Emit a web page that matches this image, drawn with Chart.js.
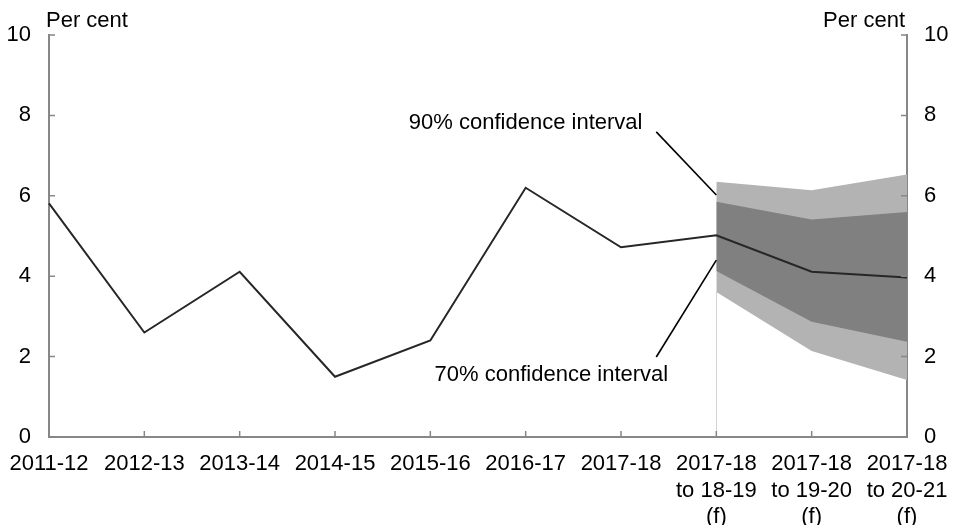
<!DOCTYPE html>
<html>
<head>
<meta charset="utf-8">
<script src="https://cdn.jsdelivr.net/npm/chart.js@4/dist/chart.umd.min.js"></script>
<style>
  html, body { margin: 0; padding: 0; background: #fff; }
  #wrap { width: 953px; height: 525px; position: relative; }
</style>
</head>
<body>
<div id="wrap"><canvas id="c" width="953" height="525"></canvas></div>
<script>
// ---- Data ----
const categories = [
  '2011-12', '2012-13', '2013-14', '2014-15', '2015-16', '2016-17', '2017-18',
  ['2017-18', 'to 18-19', '(f)'],
  ['2017-18', 'to 19-20', '(f)'],
  ['2017-18', 'to 20-21', '(f)']
];
const growth  = [5.81, 2.60, 4.11, 1.50, 2.40, 6.20, 4.72, 5.02, 4.11, 3.97];
const upper90 = [null, null, null, null, null, null, null, 6.35, 6.14, 6.53];
const lower90 = [null, null, null, null, null, null, null, 3.61, 2.14, 1.42];
const upper70 = [null, null, null, null, null, null, null, 5.85, 5.41, 5.60];
const lower70 = [null, null, null, null, null, null, null, 4.13, 2.87, 2.37];
const yTicks  = [0, 2, 4, 6, 8, 10];
const axisTitle = 'Per cent';
const notes = [
  { text: '90% confidence interval', at: [5.0, 7.81], from: [6.37, 7.59], to: [7, 6.02] },
  { text: '70% confidence interval', at: [5.27, 1.54], from: [6.37, 1.99], to: [7, 4.40] }
];

// ---- Styles ----
const FONT = "'Liberation Sans', Arial, Helvetica, sans-serif";
const FS = 22;
const axisColor = '#878787';
const light = '#b3b3b3';
const dark = '#808080';
const lineColor = '#262626';

const decor = {
  id: 'decor',
  beforeDatasetsDraw(chart) {
    const { ctx, scales: { x, y } } = chart;
    const i = lower90.findIndex(v => v !== null);
    ctx.save();
    ctx.strokeStyle = '#d4d4d4';
    ctx.lineWidth = 1;
    ctx.beginPath();
    const px = Math.round(x.getPixelForValue(i)) + 0.5;
    ctx.moveTo(px, y.getPixelForValue(0));
    ctx.lineTo(px, y.getPixelForValue(lower90[i]));
    ctx.stroke();
    ctx.restore();
  },
  afterDraw(chart) {
    const { ctx, chartArea: a, scales: { x, y } } = chart;
    ctx.save();
    ctx.strokeStyle = axisColor;
    ctx.lineWidth = 1.5;
    ctx.beginPath();
    yTicks.forEach(v => {
      const py = y.getPixelForValue(v);
      ctx.moveTo(a.left, py); ctx.lineTo(a.left + 6, py);
      ctx.moveTo(a.right, py); ctx.lineTo(a.right - 6, py);
    });
    categories.forEach((c, i) => {
      const px = x.getPixelForValue(i);
      ctx.moveTo(px, a.bottom); ctx.lineTo(px, a.bottom - 6);
    });
    ctx.stroke();
    ctx.fillStyle = '#000';
    ctx.font = FS + 'px ' + FONT;
    ctx.textBaseline = 'alphabetic';
    ctx.textAlign = 'left';
    ctx.fillText(axisTitle, a.left - 3, a.top - 8);
    ctx.textAlign = 'right';
    ctx.fillText(axisTitle, a.right - 2, a.top - 8);
    ctx.strokeStyle = '#000';
    ctx.lineWidth = 1.6;
    notes.forEach(n => {
      ctx.beginPath();
      ctx.moveTo(x.getPixelForValue(n.from[0]), y.getPixelForValue(n.from[1]));
      ctx.lineTo(x.getPixelForValue(n.to[0]), y.getPixelForValue(n.to[1]));
      ctx.stroke();
      ctx.textAlign = 'center';
      ctx.textBaseline = 'middle';
      ctx.fillText(n.text, x.getPixelForValue(n.at[0]), y.getPixelForValue(n.at[1]));
    });
    ctx.restore();
  }
};

const band = (data, fill, color, order) => ({
  data, fill, backgroundColor: color, borderWidth: 0, pointRadius: 0, order, tension: 0
});

new Chart(document.getElementById('c'), {
  type: 'line',
  data: {
    labels: categories,
    datasets: [
      band(upper90, '+1', light, 3),
      band(lower90, false, light, 3),
      band(upper70, '+1', dark, 2),
      band(lower70, false, dark, 2),
      { data: growth, borderColor: lineColor, borderWidth: 2, pointRadius: 0, fill: false, tension: 0, order: 1 }
    ]
  },
  options: {
    responsive: false,
    animation: false,
    events: [],
    layout: { padding: { top: 35, left: 0, right: 0, bottom: 0 } },
    plugins: { legend: { display: false }, tooltip: { enabled: false }, title: { display: false } },
    scales: {
      x: {
        type: 'category',
        offset: false,
        grid: { display: false, drawTicks: false },
        border: { display: true, color: axisColor, width: 2 },
        ticks: {
          autoSkip: false, maxRotation: 0, minRotation: 0, padding: 14,
          color: '#000', font: { family: FONT, size: FS, lineHeight: 1.2 }
        },
        afterFit(s) { s.height = 88; s.paddingLeft = 0; s.paddingRight = 0; }
      },
      y: {
        position: 'left', min: 0, max: 10,
        afterBuildTicks(s) { s.ticks = yTicks.map(v => ({ value: v })); },
        grid: { display: false, drawTicks: false },
        border: { display: true, color: axisColor, width: 2 },
        ticks: { padding: 18, color: '#000', font: { family: FONT, size: FS } },
        afterFit(s) { s.width = 49; s.paddingTop = 0; s.paddingBottom = 0; }
      },
      y2: {
        position: 'right', min: 0, max: 10,
        afterBuildTicks(s) { s.ticks = yTicks.map(v => ({ value: v })); },
        grid: { display: false, drawTicks: false },
        border: { display: true, color: axisColor, width: 2 },
        ticks: { padding: 17, color: '#000', font: { family: FONT, size: FS } },
        afterFit(s) { s.width = 46; s.paddingTop = 0; s.paddingBottom = 0; }
      }
    }
  },
  plugins: [decor]
});
</script>
</body>
</html>
